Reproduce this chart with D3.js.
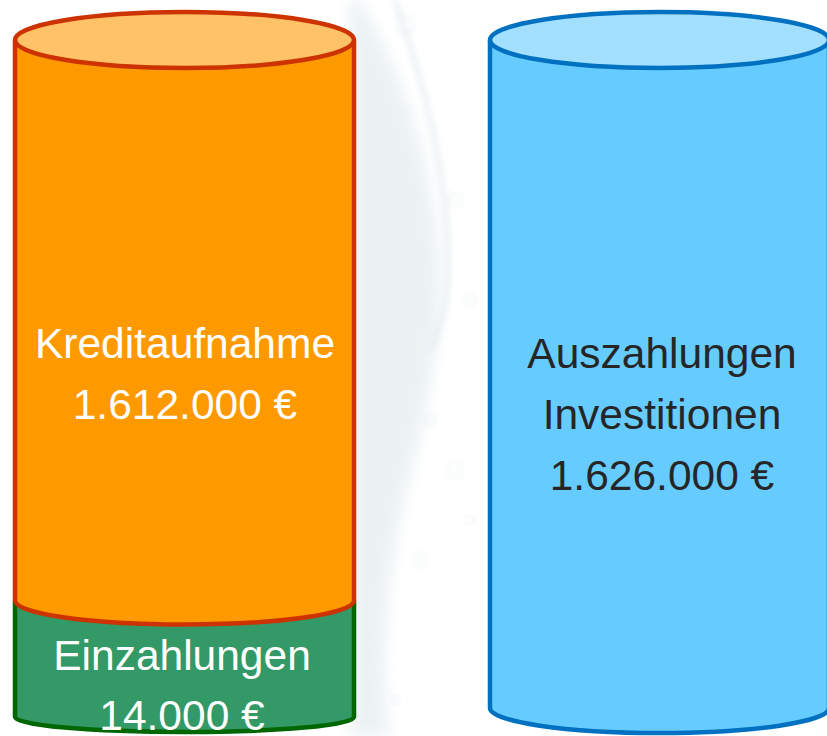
<!DOCTYPE html>
<html>
<head>
<meta charset="utf-8">
<script src="https://cdn.jsdelivr.net/npm/d3@7"></script>
<style>
  html, body { margin: 0; padding: 0; background: #fff; }
  svg { display: block; }
  text { font-family: "Liberation Sans", Arial, sans-serif; }
</style>
</head>
<body>
<svg id="chart" width="827" height="736"></svg>
<script>
// data
const columns = ["Mittelherkunft", "Mittelverwendung"];
const leftSegments = ["Einzahlungen", "Kreditaufnahme"];
const leftValues = [14000, 1612000];
const rightSegments = ["Auszahlungen Investitionen"];
const rightValues = [1626000];

const svg = d3.select("#chart"),
    width = +svg.attr("width"),
    height = +svg.attr("height");

const de = d3.formatLocale({ decimal: ",", thousands: ".", grouping: [3], currency: ["", " €"] });
const fmt = v => de.format(",")(v) + " €";

// faint watercolour splash behind the cylinders
const defs = svg.append("defs");
defs.append("filter").attr("id", "soft")
    .append("feGaussianBlur").attr("stdDeviation", 7);
defs.append("filter").attr("id", "softer")
    .append("feGaussianBlur").attr("stdDeviation", 3);

const splash = svg.append("g").attr("class", "splash");
splash.append("path")
    .attr("d", "M360,0 C395,60 430,140 440,260 C445,330 425,420 400,520 C385,600 380,680 390,736 L350,736 L350,0 Z")
    .attr("fill", "#e6eef1").attr("opacity", 0.75).attr("filter", "url(#soft)");
splash.append("path")
    .attr("d", "M395,0 C420,70 445,160 448,250 C450,300 440,330 430,350")
    .attr("fill", "none").attr("stroke", "#dce6ea").attr("stroke-width", 5)
    .attr("opacity", 0.6).attr("filter", "url(#softer)");
[[455, 200, 7], [470, 300, 6], [430, 420, 6], [455, 470, 8], [470, 520, 5],
 [420, 560, 7], [395, 700, 5], [405, 25, 9]].forEach(([x, y, r]) => {
    splash.append("circle").attr("cx", x).attr("cy", y).attr("r", r)
        .attr("fill", "none").attr("stroke", "#e2eaee").attr("stroke-width", 2)
        .attr("opacity", 0.6).attr("filter", "url(#softer)");
});

// layout
const x = d3.scaleBand().domain(columns).range([15, 829]).paddingInner(0.2863);
const rx = x.bandwidth() / 2;
const ryTop = 28, ryMid = 24;
const strokeW = 4.5;
const lineH = 61;

const columnsLayout = {
    Mittelherkunft: { top: 40, base: 717, ryBase: 15, labels: leftSegments, values: leftValues },
    Mittelverwendung: { top: 40, base: 708, ryBase: 25, labels: rightSegments, values: rightValues }
};

const styles = {
    "Einzahlungen": { fill: "#339966", stroke: "#006600", text: "#ffffff", lines: ["Einzahlungen"], baseline: 670, cx: 182 },
    "Kreditaufnahme": { fill: "#ff9900", stroke: "#cc3300", top: "#ffc266", text: "#ffffff", lines: ["Kreditaufnahme"], baseline: 358, cx: 185 },
    "Auszahlungen Investitionen": { fill: "#66ccff", stroke: "#0070c0", top: "#a3e0ff", text: "#262626", lines: ["Auszahlungen", "Investitionen"], baseline: 368, cx: 662 }
};

columns.forEach(col => {
    const c = columnsLayout[col];
    const total = d3.sum(c.values);
    // compressed scale so small segments stay readable
    const y = d3.scalePow().exponent(0.37).domain([0, total]).range([c.base, c.top]);
    const cx = x(col) + rx, xl = cx - rx, xr = cx + rx;

    let acc = 0;
    const segs = c.values.map((v, i) => {
        const s = { name: c.labels[i], value: v, v0: acc, v1: acc + v, index: i };
        acc += v;
        return s;
    });

    const g = svg.append("g").attr("class", "cyl");

    segs.forEach(s => {
        const st = styles[s.name];
        const y0 = y(s.v0), y1 = y(s.v1);
        const ryB = s.index === 0 ? c.ryBase : ryMid;
        const body = `M${xl},${y1} L${xl},${y0} A${rx},${ryB} 0 0 0 ${xr},${y0} L${xr},${y1} A${rx},${ryTop} 0 0 0 ${xl},${y1} Z`;
        g.append("path").attr("d", body).attr("fill", st.fill);
        g.append("path")
            .attr("d", `M${xl},${y1} L${xl},${y0} A${rx},${ryB} 0 0 0 ${xr},${y0} L${xr},${y1}`)
            .attr("fill", "none").attr("stroke", st.stroke).attr("stroke-width", strokeW)
            .attr("stroke-linejoin", "round");
    });

    // top ellipse
    const topSeg = segs[segs.length - 1];
    const tst = styles[topSeg.name];
    g.append("ellipse")
        .attr("cx", cx).attr("cy", y(total))
        .attr("rx", rx).attr("ry", ryTop)
        .attr("fill", tst.top).attr("stroke", tst.stroke).attr("stroke-width", strokeW);

    // labels
    segs.forEach(s => {
        const st = styles[s.name];
        const lines = st.lines.concat([fmt(s.value)]);
        g.append("text")
            .attr("text-anchor", "middle")
            .attr("font-size", 42.5)
            .attr("fill", st.text)
            .selectAll("tspan")
            .data(lines)
            .join("tspan")
            .attr("x", st.cx)
            .attr("y", (d, i) => st.baseline + i * (s.index === 0 && segs.length > 1 ? 60 : lineH))
            .text(d => d);
    });
});
</script>
</body>
</html>
